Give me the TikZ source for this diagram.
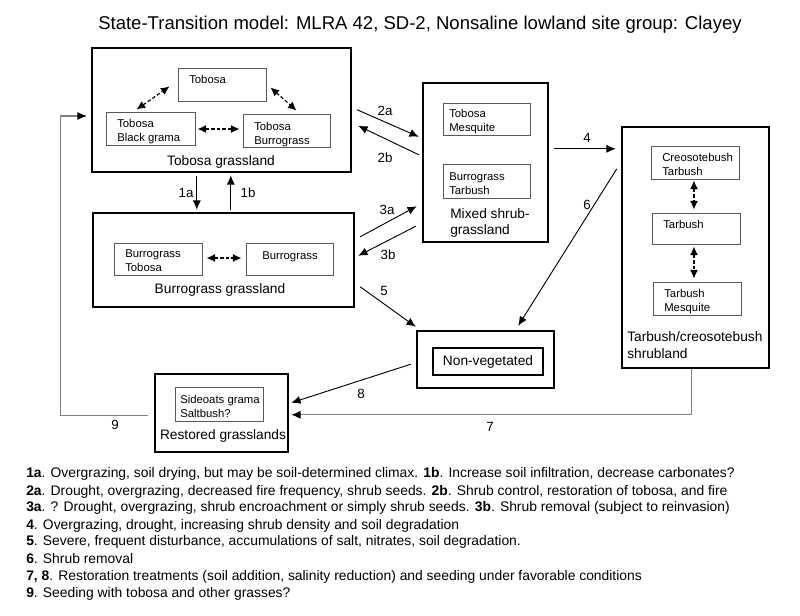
\documentclass[tikz,border=0pt]{standalone}
\usepackage{fontspec}
\setmainfont{Liberation Sans}
\usetikzlibrary{arrows.meta,fit,calc}
\begin{document}
\begin{tikzpicture}[x=0.75pt,y=-0.75pt,
  outerbox/.style={draw, line width=1.8pt, inner sep=0pt},
  innerbox/.style={draw=black!65, line width=0.7pt, inner sep=0pt},
  intext/.style={font=\fontsize{8.5}{10.5}\selectfont, inner sep=0pt, align=left, anchor=north west},
  boxlabel/.style={font=\fontsize{10.3}{12.5}\selectfont, inner sep=0pt},
  tlabel/.style={font=\fontsize{10}{12}\selectfont, inner sep=0pt},
  conn/.style={line width=0.7pt, -{Latex[length=7pt,width=6pt]}},
  dconn/.style={line width=0.9pt, dash pattern=on 2.6pt off 1.6pt, {Latex[length=6.5pt,width=6pt]}-{Latex[length=6.5pt,width=6pt]}},
  grayconn/.style={draw=black!50, line width=0.8pt, -{Latex[length=7pt,width=6pt,color=black]}},
  legend/.style={font=\fontsize{10.4}{12}\selectfont, inner sep=0pt, anchor=base west}]
\useasboundingbox (0,0) rectangle (800,616);

% title
\node[font=\fontsize{13.9}{16}\selectfont, inner sep=0pt, anchor=base] (title) at (420,30)
  {State-Transition model: MLRA 42, SD-2, Nonsaline lowland site group: Clayey};

% Tobosa grassland
\node[outerbox, fit={(92,48)(351,172)}] (tob) {};
\node[innerbox, fit={(178,68)(266,101)}] (tTob) {};
\node[innerbox, fit={(106,112)(195,145)}] (tBG) {};
\node[innerbox, fit={(243,114)(330,147)}] (tBu) {};
\node[intext] (tTobT) at (189,75) {Tobosa};
\node[intext] (tBGT) at (117,119) {Tobosa\\Black grama};
\node[intext] (tBuT) at (254,122) {Tobosa\\Burrograss};
\node[boxlabel] (tobL) at (221,162) {Tobosa grassland};

% Burrograss grassland
\node[outerbox, fit={(93,213)(354,307)}] (bur) {};
\node[innerbox, fit={(114,243)(202,275)}] (bBT) {};
\node[innerbox, fit={(246,243)(333,275)}] (bB) {};
\node[intext] (bBTT) at (125,249) {Burrograss\\Tobosa};
\node[font=\fontsize{8.5}{10.5}\selectfont, inner sep=0pt] (bBT2) at (290,257) {Burrograss};
\node[boxlabel] (burL) at (220,290) {Burrograss grassland};

% Mixed shrub-grassland
\node[outerbox, fit={(423,83)(548,242)}] (mix) {};
\node[innerbox, fit={(443,103)(530,135)}] (mTM) {};
\node[innerbox, fit={(443,164)(530,198)}] (mBT) {};
\node[intext] (mTMT) at (449,109) {Tobosa\\Mesquite};
\node[intext] (mBTT) at (449,172) {Burrograss\\Tarbush};
\node[boxlabel, align=left, anchor=north west, font=\fontsize{10.3}{12}\selectfont] (mixL) at (450,208) {Mixed shrub-\\grassland};

% Tarbush/creosotebush shrubland
\node[outerbox, fit={(622,127)(769,368)}] (tar) {};
\node[innerbox, fit={(651,146)(739,179)}] (aCT) {};
\node[innerbox, fit={(652,213)(740,244)}] (aT) {};
\node[innerbox, fit={(653,282)(741,315)}] (aTM) {};
\node[intext] (aCTT) at (662,153) {Creosotebush\\Tarbush};
\node[intext] (aTT) at (663,220) {Tarbush};
\node[intext] (aTMT) at (664,289) {Tarbush\\Mesquite};
\node[boxlabel, align=left, anchor=north west, font=\fontsize{10.3}{12.75}\selectfont] (tarL) at (627,331) {Tarbush/creosotebush\\shrubland};

% Non-vegetated
\node[outerbox, fit={(417,331)(554,388)}] (nv) {};
\node[draw, line width=1.5pt, inner sep=0pt, fit={(433,348)(543,375)}] (nvIn) {};
\node[boxlabel] (nvL) at (nvIn.center) {Non-vegetated};

% Restored grasslands
\node[outerbox, fit={(155,374)(288,452)}] (res) {};
\node[innerbox, fit={(175,387)(263,421)}] (rS) {};
\node[intext] (rST) at (180,395) {Sideoats grama\\Saltbush?};
\node[boxlabel] (resL) at (223,436) {Restored grasslands};

% dashed double arrows inside states
\draw[dconn] ($(tBG.north west)+(31,-2)$) -- ($(tTob.south west)+(-8,-15)$);
\draw[dconn] ($(tTob.south east)+(4,-14)$) -- ($(tBu.north west)+(54,-3)$);
\draw[dconn] ($(tBG.east)+(2,0.5)$) -- ($(tBu.west)+(-3,-1.5)$);
\draw[dconn] ($(bBT.east)+(4,-1)$) -- ($(bB.west)+(-4,-1)$);
\draw[dconn] ($(aCT.south)+(-1,1)$) -- ($(aT.north)+(-2,-3)$);
\draw[dconn] ($(aT.south)+(-2,2)$) -- ($(aTM.north)+(-3,-3)$);

% transitions
\draw[conn] ($(tob.south west)+(106,3)$) -- ($(bur.north west)+(105,-2)$);
\draw[conn] ($(bur.north west)+(139,-2)$) -- ($(tob.south west)+(140,2)$);
\draw[conn] ($(tob.north east)+(5,63)$) -- ($(mix.north west)+(-3,55)$);
\draw[conn] ($(mix.north west)+(-3,73)$) -- ($(tob.north east)+(6,79)$);
\draw[conn] ($(bur.north east)+(5,25)$) -- ($(mix.south west)+(-5,-37)$);
\draw[conn] ($(mix.south west)+(-6,-17)$) -- ($(bur.north east)+(3,44)$);
\draw[conn] ($(bur.north east)+(5,75)$) -- ($(nv.north west)+(0,-3)$);
\draw[conn] ($(mix.north east)+(5,67)$) -- ($(tar.north west)+(-5,23)$);
\draw[conn] ($(tar.north west)+(-4,43)$) -- ($(nv.north east)+(-37,-4)$);
\draw[conn] ($(nv.south west)+(-5,-25)$) -- ($(res.north east)+(2,30)$);
\draw[grayconn] ($(tar.south west)+(71,0)$) |- ($(res.north east)+(2,42)$);
\draw[grayconn] ($(res.south west)+(-6,-38)$) -- ++(-87,0) |- ($(tob.west)+(-4,6)$);

% transition labels
\node[tlabel] (l1a) at (186,193) {1a};
\node[tlabel] (l1b) at (248,193) {1b};
\node[tlabel] (l2a) at (385,111) {2a};
\node[tlabel] (l2b) at (385,158) {2b};
\node[tlabel] (l3a) at (387,210) {3a};
\node[tlabel] (l3b) at (388,255) {3b};
\node[tlabel] (l5) at (384,291) {5};
\node[tlabel] (l4) at (587,138) {4};
\node[tlabel] (l6) at (587,205) {6};
\node[tlabel] (l8) at (361,394) {8};
\node[tlabel] (l7) at (490,427) {7};
\node[tlabel] (l9) at (115,425) {9};

% legend
\node[legend] (leg1) at (26,478) {\textbf{1a}. Overgrazing, soil drying, but may be soil-determined climax. \textbf{1b}. Increase soil infiltration, decrease carbonates?};
\node[legend] (leg2) at (26,495) {\textbf{2a}. Drought, overgrazing, decreased fire frequency, shrub seeds. \textbf{2b}. Shrub control, restoration of tobosa, and fire};
\node[legend] (leg3) at (26,512) {\textbf{3a}. ? Drought, overgrazing, shrub encroachment or simply shrub seeds. \textbf{3b}. Shrub removal (subject to reinvasion)};
\node[legend] (leg4) at (26,529) {\textbf{4}. Overgrazing, drought, increasing shrub density and soil degradation};
\node[legend] (leg5) at (26,546) {\textbf{5}. Severe, frequent disturbance, accumulations of salt, nitrates, soil degradation.};
\node[legend] (leg6) at (26,563) {\textbf{6}. Shrub removal};
\node[legend] (leg7) at (26,580) {\textbf{7, 8}. Restoration treatments (soil addition, salinity reduction) and seeding under favorable conditions};
\node[legend] (leg8) at (26,597) {\textbf{9}. Seeding with tobosa and other grasses?};
\end{tikzpicture}
\end{document}
